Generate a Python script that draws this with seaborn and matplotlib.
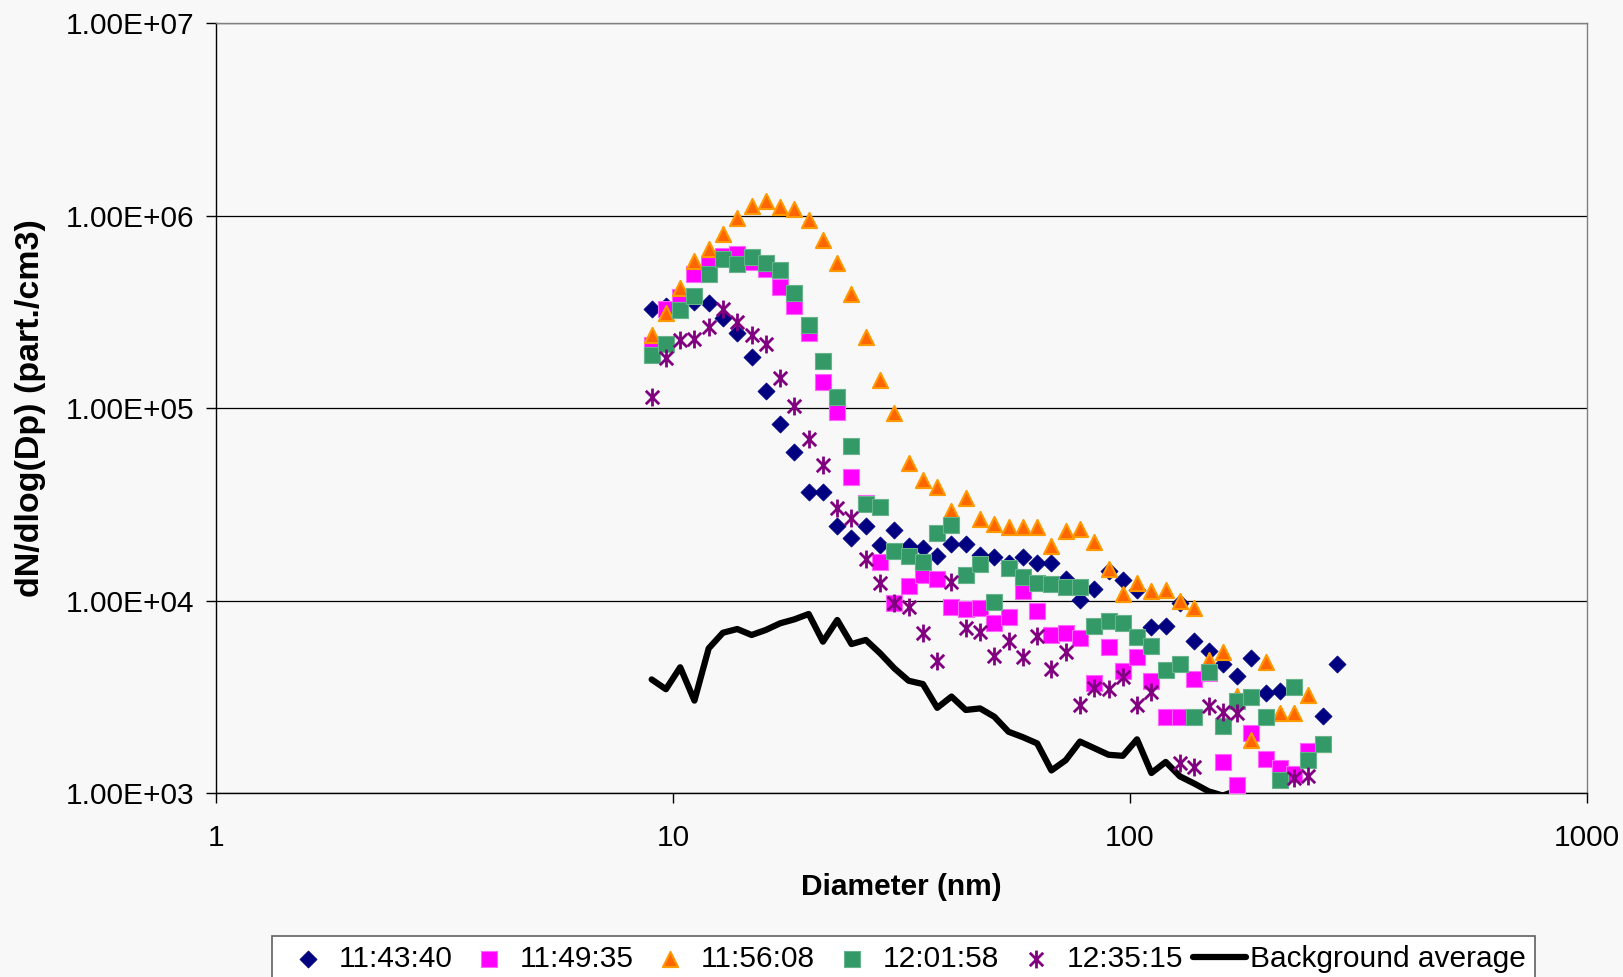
import numpy as np
import pandas as pd
import matplotlib
matplotlib.use("Agg")
import matplotlib.pyplot as plt
import seaborn as sns
from matplotlib.path import Path
from matplotlib.ticker import FixedLocator, FuncFormatter, NullLocator

nan = np.nan

# SMPS channel mid-point diameters (nm)
diameter_nm = [8.98, 9.65, 10.37, 11.14, 11.97, 12.86, 13.82, 14.86, 15.96, 17.15,
               18.43, 19.81, 21.29, 22.88, 24.58, 26.42, 28.39, 30.51, 32.78, 35.23,
               37.86, 40.68, 43.71, 46.98, 50.48, 54.24, 58.29, 62.64, 67.31, 72.33,
               77.72, 83.52, 89.75, 96.44, 103.6, 111.4, 119.7, 128.6, 138.2, 148.6,
               159.6, 171.5, 184.3, 198.1, 212.9, 228.8, 245.8, 264.2, 283.9]

# dN/dlog(Dp) in part./cm3 for each scan
scan_114340 = [3.27e5, 3.40e5, 3.45e5, 3.55e5, 3.50e5, 2.94e5, 2.46e5, 1.83e5, 1.22e5, 8.30e4,
               5.90e4, 3.65e4, 3.65e4, 2.43e4, 2.12e4, 2.44e4, 1.94e4, 2.32e4, 1.93e4, 1.87e4,
               1.71e4, 1.96e4, 1.96e4, 1.72e4, 1.68e4, 1.57e4, 1.68e4, 1.57e4, 1.56e4, 1.29e4,
               1.01e4, 1.15e4, 1.42e4, 1.28e4, 1.13e4, 7.26e3, 7.36e3, 9.70e3, 6.14e3, 5.49e3,
               4.68e3, 4.06e3, 5.00e3, 3.30e3, 3.37e3, nan, nan, 2.50e3, 4.68e3]

scan_114935 = [2.12e5, 3.26e5, 3.76e5, 4.95e5, 5.53e5, 6.16e5, 6.31e5, 5.76e5, 5.25e5, 4.27e5,
               3.39e5, 2.44e5, 1.37e5, 9.57e4, 4.40e4, 3.20e4, 1.59e4, 9.74e3, 1.19e4, 1.36e4,
               1.29e4, 9.22e3, 9.00e3, 9.11e3, 7.61e3, 8.18e3, 1.12e4, 8.85e3, 6.62e3, 6.75e3,
               6.36e3, 3.74e3, 5.71e3, 4.32e3, 5.11e3, 3.83e3, 2.49e3, 2.49e3, 3.89e3, 4.20e3,
               1.45e3, 1.10e3, 2.04e3, 1.51e3, 1.35e3, 1.26e3, 1.66e3, nan, nan]

scan_115608 = [2.39e5, 3.13e5, 4.19e5, 5.80e5, 6.70e5, 8.01e5, 9.75e5, 1.12e6, 1.19e6, 1.11e6,
               1.08e6, 9.48e5, 7.46e5, 5.65e5, 3.91e5, 2.33e5, 1.40e5, 9.38e4, 5.20e4, 4.23e4,
               3.87e4, 2.92e4, 3.42e4, 2.64e4, 2.49e4, 2.40e4, 2.40e4, 2.42e4, 1.92e4, 2.30e4,
               2.34e4, 2.01e4, 1.45e4, 1.08e4, 1.23e4, 1.12e4, 1.13e4, 9.90e3, 9.11e3, 4.88e3,
               5.42e3, 3.20e3, 1.88e3, 4.81e3, 2.59e3, 2.61e3, 3.23e3, 1.80e3, nan]

scan_120158 = [1.88e5, 2.15e5, 3.23e5, 3.82e5, 4.95e5, 5.92e5, 5.60e5, 6.06e5, 5.69e5, 5.21e5,
               3.97e5, 2.69e5, 1.76e5, 1.14e5, 6.32e4, 3.16e4, 3.07e4, 1.81e4, 1.71e4, 1.59e4,
               2.23e4, 2.47e4, 1.35e4, 1.54e4, 9.86e3, 1.47e4, 1.33e4, 1.24e4, 1.22e4, 1.17e4,
               1.17e4, 7.40e3, 7.85e3, 7.67e3, 6.44e3, 5.82e3, 4.35e3, 4.66e3, 2.49e3, 4.27e3,
               2.23e3, 3.02e3, 3.15e3, 2.48e3, 1.17e3, 3.56e3, 1.49e3, 1.79e3, nan]

scan_123515 = [1.14e5, 1.81e5, 2.26e5, 2.27e5, 2.65e5, 3.26e5, 2.81e5, 2.39e5, 2.15e5, 1.43e5,
               1.02e5, 6.88e4, 5.03e4, 3.03e4, 2.69e4, 1.64e4, 1.24e4, 9.74e3, 9.25e3, 6.78e3,
               4.87e3, 1.25e4, 7.22e3, 6.84e3, 5.15e3, 6.18e3, 5.11e3, 6.54e3, 4.39e3, 5.42e3,
               2.86e3, 3.50e3, 3.46e3, 4.02e3, 2.86e3, 3.36e3, nan, 1.43e3, 1.37e3, 2.83e3,
               2.64e3, 2.59e3, nan, nan, nan, 1.19e3, 1.22e3, nan, nan]

background_avg = [3.89e3, 3.46e3, 4.50e3, 3.02e3, 5.64e3, 6.80e3, 7.11e3, 6.62e3, 7.03e3, 7.61e3,
                  7.98e3, 8.51e3, 6.11e3, 7.92e3, 5.94e3, 6.24e3, 5.32e3, 4.44e3, 3.83e3, 3.68e3,
                  2.77e3, 3.17e3, 2.70e3, 2.75e3, 2.49e3, 2.08e3, 1.95e3, 1.81e3, 1.31e3, 1.48e3,
                  1.85e3, 1.71e3, 1.58e3, 1.56e3, 1.90e3, 1.27e3, 1.45e3, 1.22e3, 1.12e3, 1.02e3,
                  9.70e2, 1.03e3, 9.20e2, nan, nan, nan, nan, nan, nan]

scan_labels = ["11:43:40", "11:49:35", "11:56:08", "12:01:58", "12:35:15"]
background_label = "Background average"

x_ticks = [1, 10, 100, 1000]
x_tick_labels = ["1", "10", "100", "1000"]
y_ticks = [1e3, 1e4, 1e5, 1e6, 1e7]

sns.set_theme(style="white")
plt.rcParams["font.family"] = ["Liberation Sans", "DejaVu Sans"]

BG = "#f8f8f8"
FS = 21.5

# asterisk marker: vertical stroke plus an X
asterisk = Path([(0, -1), (0, 1), (-0.75, -0.75), (0.75, 0.75), (-0.75, 0.75), (0.75, -0.75)],
                [Path.MOVETO, Path.LINETO, Path.MOVETO, Path.LINETO, Path.MOVETO, Path.LINETO])

W, H = 1623, 977
fig = plt.figure(figsize=(W / 100, H / 100), dpi=100, facecolor=BG)
ax = fig.add_axes([216 / W, 1 - 793 / H, 1371 / W, 770 / H])
ax.set_facecolor(BG)
ax.set_xscale("log")
ax.set_yscale("log")

styles = [
    dict(marker="D", s=76, color="#000080", edgecolor="#000080", linewidth=0.5),
    dict(marker="s", s=120, color="#ff00ff", edgecolor="#ff66ff", linewidth=0.8),
    dict(marker="^", s=118, color="#ff6600", edgecolor="#ff9900", linewidth=1.5),
    dict(marker="s", s=120, color="#339966", edgecolor="#66b38c", linewidth=0.8),
    dict(marker=asterisk, s=165, color="#800080", edgecolor="#800080", linewidth=2.0),
]
series = [scan_114340, scan_114935, scan_115608, scan_120158, scan_123515]

for vals, lab, st in zip(series, scan_labels, styles):
    df = pd.DataFrame({"d": diameter_nm, "n": vals}).dropna()
    sns.scatterplot(data=df, x="d", y="n", ax=ax, label=lab, zorder=3, legend=False, **st)

bg = pd.DataFrame({"d": diameter_nm, "n": background_avg}).dropna()
sns.lineplot(data=bg, x="d", y="n", ax=ax, color="black", linewidth=4.5, sort=False,
             estimator=None, label=background_label, legend=False, zorder=2,
             solid_joinstyle="round", solid_capstyle="round")

ax.set_xlim(1, 1000)
ax.set_ylim(1e3, 1e7)
ax.xaxis.set_major_locator(FixedLocator(x_ticks))
ax.set_xticklabels(x_tick_labels)
ax.yaxis.set_major_locator(FixedLocator(y_ticks))
ax.yaxis.set_major_formatter(FuncFormatter(lambda v, p: f"{v:.2E}"))
ax.xaxis.set_minor_locator(NullLocator())
ax.yaxis.set_minor_locator(NullLocator())

ax.tick_params(axis="both", which="major", direction="out", length=7, width=1,
               color="black", labelsize=FS, labelcolor="black")
ax.tick_params(axis="x", pad=15.5, bottom=True)
ax.tick_params(axis="y", pad=8.5, left=True)

ax.set_axisbelow(True)
ax.yaxis.grid(True, color="black", linewidth=0.9)
ax.xaxis.grid(False)

for side in ["top", "right"]:
    ax.spines[side].set_color("#808080")
    ax.spines[side].set_linewidth(1)
for side in ["left", "bottom"]:
    ax.spines[side].set_color("black")
    ax.spines[side].set_linewidth(1)

ax.set_xlabel("Diameter (nm)", fontsize=FS, fontweight="bold", color="black", va="center")
ax.xaxis.set_label_coords(0.5, (793 - 887) / 770)
ax.set_ylabel("dN/dlog(Dp) (part./cm3)", fontsize=24.5, fontweight="bold", color="black", va="center")
ax.yaxis.set_label_coords((31 - 216) / 1371, 0.5)

handles, labels = ax.get_legend_handles_labels()
leg = fig.legend(handles, labels, loc="upper left", bbox_to_anchor=(272 / W, 1 - 936 / H),
                 ncol=6, fontsize=FS, frameon=True, fancybox=False, shadow=False,
                 handlelength=1.78, handletextpad=0.14, columnspacing=0.34,
                 borderpad=0.3, borderaxespad=0, facecolor="white", edgecolor="#606060",
                 framealpha=1, scatterpoints=1, markerscale=1.0)
leg.get_frame().set_linewidth(1.2)
for t in leg.get_texts():
    t.set_color("black")

fig.savefig("out.png", dpi=100, facecolor=BG)
